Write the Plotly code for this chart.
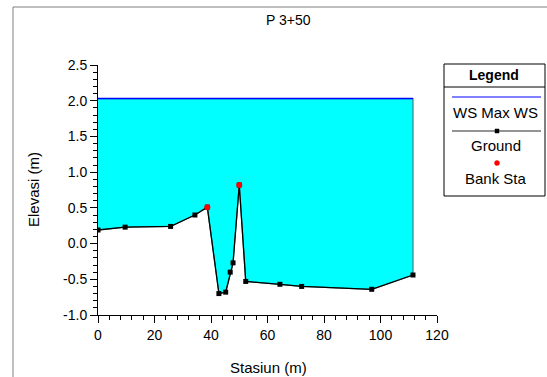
import plotly.graph_objects as go

# ---- data ----
station = [0, 9.6, 25.7, 34.3, 38.7, 42.8, 45.2, 46.8, 47.8, 50.0, 52.3, 64.4, 72.1, 96.9, 111.5]
elevation = [0.19, 0.23, 0.24, 0.40, 0.51, -0.70, -0.68, -0.40, -0.27, 0.82, -0.53, -0.57, -0.60, -0.64, -0.44]
bank_station = [38.7, 50.0]
bank_elevation = [0.51, 0.82]
ws_max = 2.03
y_tick_vals = [-1.0, -0.5, 0.0, 0.5, 1.0, 1.5, 2.0, 2.5]
y_tick_labels = ["-1.0", "-0.5", "0.0", "0.5", "1.0", "1.5", "2.0", "2.5"]
x_tick_vals = [0, 20, 40, 60, 80, 100, 120]
title_text = "P 3+50"
x_title = "Stasiun (m)"
y_title = "Elevasi (m)"
legend_labels = ["WS Max WS", "Ground", "Bank Sta"]

W, H = 547, 377
L, R, T, B = 98, 110, 65, 62
PW, PH = W - L - R, H - T - B
FONT = "Liberation Sans, Arial, sans-serif"


def px(x):
    return (x - L) / PW


def py(y):
    return (H - B - y) / PH


fig = go.Figure()

# water fill
fig.add_trace(go.Scatter(
    x=station + [station[-1], station[0]],
    y=elevation + [ws_max, ws_max],
    fill="toself", fillcolor="#00FFFF",
    line=dict(color="#3f7f7f", width=1.2),
    mode="lines", hoverinfo="skip", showlegend=False))

# WS line
fig.add_trace(go.Scatter(
    x=[station[0], station[-1]], y=[ws_max, ws_max],
    mode="lines", line=dict(color="#0000FF", width=1.5), showlegend=False))

# ground
fig.add_trace(go.Scatter(
    x=station, y=elevation, mode="lines+markers",
    line=dict(color="black", width=1.3),
    marker=dict(symbol="square", size=5, color="black"), showlegend=False))

# bank stations
fig.add_trace(go.Scatter(
    x=bank_station, y=bank_elevation, mode="markers",
    marker=dict(symbol="circle", size=6, color="#FF0000"), showlegend=False))

shapes = []
# outer border (left and top)
shapes.append(dict(type="line", xref="paper", yref="paper",
                   x0=px(13), x1=px(13), y0=py(7), y1=py(400),
                   line=dict(color="#808080", width=1)))
shapes.append(dict(type="line", xref="paper", yref="paper",
                   x0=px(13), x1=px(560), y0=py(7), y1=py(7),
                   line=dict(color="#808080", width=1)))
# legend box
shapes.append(dict(type="rect", xref="paper", yref="paper",
                   x0=px(444), x1=px(545), y0=py(196), y1=py(64),
                   line=dict(color="black", width=1), fillcolor="white"))
shapes.append(dict(type="line", xref="paper", yref="paper",
                   x0=px(444), x1=px(545), y0=py(87), y1=py(87),
                   line=dict(color="black", width=1)))
shapes.append(dict(type="line", xref="paper", yref="paper",
                   x0=px(452), x1=px(541), y0=py(97), y1=py(97),
                   line=dict(color="#0000FF", width=1)))
shapes.append(dict(type="line", xref="paper", yref="paper",
                   x0=px(452), x1=px(541), y0=py(131), y1=py(131),
                   line=dict(color="#707070", width=1.3)))
shapes.append(dict(type="rect", xref="paper", yref="paper",
                   x0=px(495), x1=px(499), y0=py(133), y1=py(129),
                   line=dict(color="black", width=0.5), fillcolor="black"))
shapes.append(dict(type="circle", xref="paper", yref="paper",
                   x0=px(494.5), x1=px(499.5), y0=py(165.5), y1=py(160.5),
                   line=dict(color="#FF0000", width=0.5), fillcolor="#FF0000"))

annotations = [
    dict(text=title_text, x=px(288), y=py(20), font=dict(size=14)),
    dict(text=x_title, x=px(268), y=py(367), font=dict(size=15)),
    dict(text=y_title, x=px(33), y=py(190), textangle=-90, font=dict(size=15)),
    dict(text="<b>Legend</b>", x=px(494), y=py(75), font=dict(size=14)),
    dict(text=legend_labels[0], x=px(496), y=py(113), font=dict(size=15)),
    dict(text=legend_labels[1], x=px(496), y=py(145), font=dict(size=15)),
    dict(text=legend_labels[2], x=px(496), y=py(178), font=dict(size=15)),
]
for a in annotations:
    a.update(xref="paper", yref="paper", showarrow=False,
             xanchor="center", yanchor="middle")

axis_common = dict(showgrid=False, zeroline=False, showline=True,
                   linecolor="black", linewidth=1, ticks="outside",
                   tickcolor="black", ticklen=7, tickwidth=1,
                   tickfont=dict(size=14, color="black"))

fig.update_layout(
    width=W, height=H,
    margin=dict(l=L, r=R, t=T, b=B),
    paper_bgcolor="white", plot_bgcolor="white",
    font=dict(family=FONT, color="black"),
    showlegend=False,
    shapes=shapes, annotations=annotations,
    xaxis=dict(range=[0, 120], tickmode="array", tickvals=x_tick_vals,
               minor=dict(dtick=4, tick0=0, ticks="outside", ticklen=4, tickcolor="black"),
               **axis_common),
    yaxis=dict(range=[-1, 2.5], tickmode="array", tickvals=y_tick_vals,
               ticktext=y_tick_labels,
               minor=dict(dtick=0.1, tick0=0, ticks="outside", ticklen=4, tickcolor="black"),
               **axis_common),
)

fig.write_html("out.html",
               config={"displayModeBar": False},
               post_script="document.body.style.margin='0';document.body.style.overflow='hidden';")
